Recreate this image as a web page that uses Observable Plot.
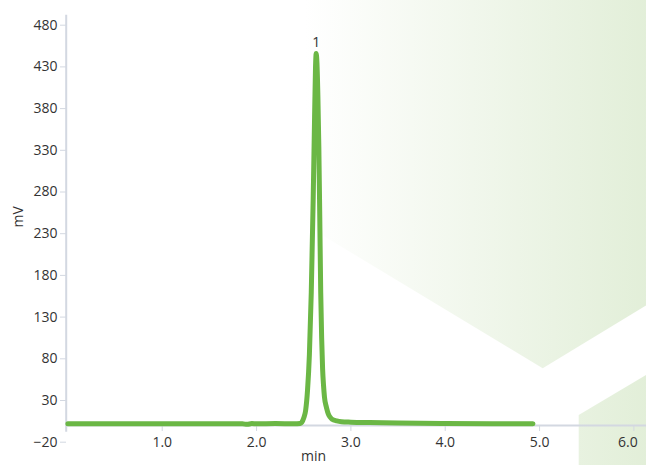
<!DOCTYPE html>
<html><head><meta charset="utf-8">
<script src="https://cdn.jsdelivr.net/npm/d3@7"></script>
<script src="https://cdn.jsdelivr.net/npm/@observablehq/plot@0.6"></script>
<style>
body{margin:0;background:#fff;}
#chart{width:646px;height:465px;overflow:hidden;}
</style></head><body><div id="chart"></div>
<script>
// Chromatogram trace (time in min, signal in mV)
const timeMin = [0, 0.5, 1.0, 1.5, 1.85, 1.9, 1.95, 2.0, 2.2, 2.4, 2.46, 2.48, 2.50, 2.52, 2.54, 2.56, 2.58, 2.60, 2.615, 2.625, 2.632, 2.64, 2.65, 2.66, 2.67, 2.68, 2.69, 2.70, 2.71, 2.72, 2.74, 2.76, 2.78, 2.80, 2.85, 2.9, 3.0, 3.2, 3.5, 4.0, 4.5, 4.93];
const signalMV = [2, 2, 2.2, 2, 2, 1.4, 2.3, 2, 2.3, 2, 2.5, 4, 9, 18, 42, 85, 160, 270, 370, 430, 446, 435, 395, 335, 250, 160, 105, 68, 48, 34, 22, 14, 10, 7.5, 5.5, 4.5, 4, 3.5, 3, 2.5, 2.2, 2];
const peakTimes = [2.632];
const peakHeights = [446];
const peakNames = ["1"];
const xTicks = [1, 2, 3, 4, 5];
const xTicksEdge = [6];
const yTicks = [-20, 30, 80, 130, 180, 230, 280, 330, 380, 430, 480];
const xLabel = "min";
const yLabel = "mV";

const trace = timeMin.map((t, i) => ({t, v: signalMV[i]}));
const peaks = peakTimes.map((t, i) => ({t, v: peakHeights[i], name: peakNames[i]}));

const axisColor = "#d3d8e1";
const textColor = "#333";
const green = "#6bb745";
const fmtX = d => d.toFixed(1);

const chart = Plot.plot({
  width: 646, height: 465,
  marginLeft: 66, marginRight: 0, marginTop: 15, marginBottom: 40,
  style: {fontFamily: "'Open Sans', sans-serif", fontSize: "14px", color: textColor, background: "transparent"},
  x: {domain: [0, 6], range: [67.4, 633.4]},
  y: {domain: [-20, 480], range: [441.7, 24.7]},
  marks: [
    Plot.ruleY([0], {stroke: axisColor, strokeWidth: 2}),
    Plot.ruleX([0], {y1: -8, y2: 492, dx: -1.7, stroke: axisColor, strokeWidth: 2}),
    Plot.axisY(yTicks, {anchor: "left", tickSize: 6, tickPadding: 3, stroke: axisColor, fill: textColor, label: null, tickFormat: d => d < 0 ? "\u2212" + Math.abs(d) : String(d)}),
    Plot.axisX(xTicks, {anchor: "bottom", tickSize: 6, tickPadding: 6, stroke: axisColor, fill: textColor, label: null, tickFormat: fmtX}),
    Plot.axisX(xTicksEdge, {anchor: "bottom", tickSize: 6, tickPadding: 6, stroke: axisColor, fill: textColor, label: null, tickFormat: () => ""}),
    Plot.text(xTicksEdge, {x: d => d, frameAnchor: "bottom", dx: -6, dy: 12, lineAnchor: "top", text: fmtX, fill: textColor, fontSize: 14}),
    Plot.text([xLabel], {frameAnchor: "bottom", dx: -43, dy: 35.5, fill: textColor, fontSize: 14}),
    Plot.text([yLabel], {frameAnchor: "left", rotate: -90, dx: -48, dy: 7, fill: textColor, fontSize: 14}),
    Plot.line(trace, {x: "t", y: "v", stroke: green, strokeWidth: 5, curve: "monotone-x", strokeLinecap: "round", strokeLinejoin: "round"}),
    Plot.text(peaks, {x: "t", y: "v", text: "name", dy: -11, fill: textColor, fontSize: 14})
  ]
});

// decorative background shapes
const ns = "http://www.w3.org/2000/svg";
const defs = document.createElementNS(ns, "defs");
defs.innerHTML = `<linearGradient id="bgGrad" gradientUnits="userSpaceOnUse" x1="305" y1="0" x2="660" y2="0">
  <stop offset="0" stop-color="#ffffff"/><stop offset="1" stop-color="#e1eed7"/></linearGradient>`;
const g = document.createElementNS(ns, "g");
g.innerHTML = `<polygon points="300,-10 300,221.7 542.7,368.3 660,297 660,-10" fill="url(#bgGrad)"/>
  <polygon points="578.7,470 578.7,415 660,366.7 660,470" fill="url(#bgGrad)"/>`;
chart.insertBefore(g, chart.firstChild);
chart.insertBefore(defs, chart.firstChild);
document.getElementById("chart").appendChild(chart);
</script>
</body></html>
